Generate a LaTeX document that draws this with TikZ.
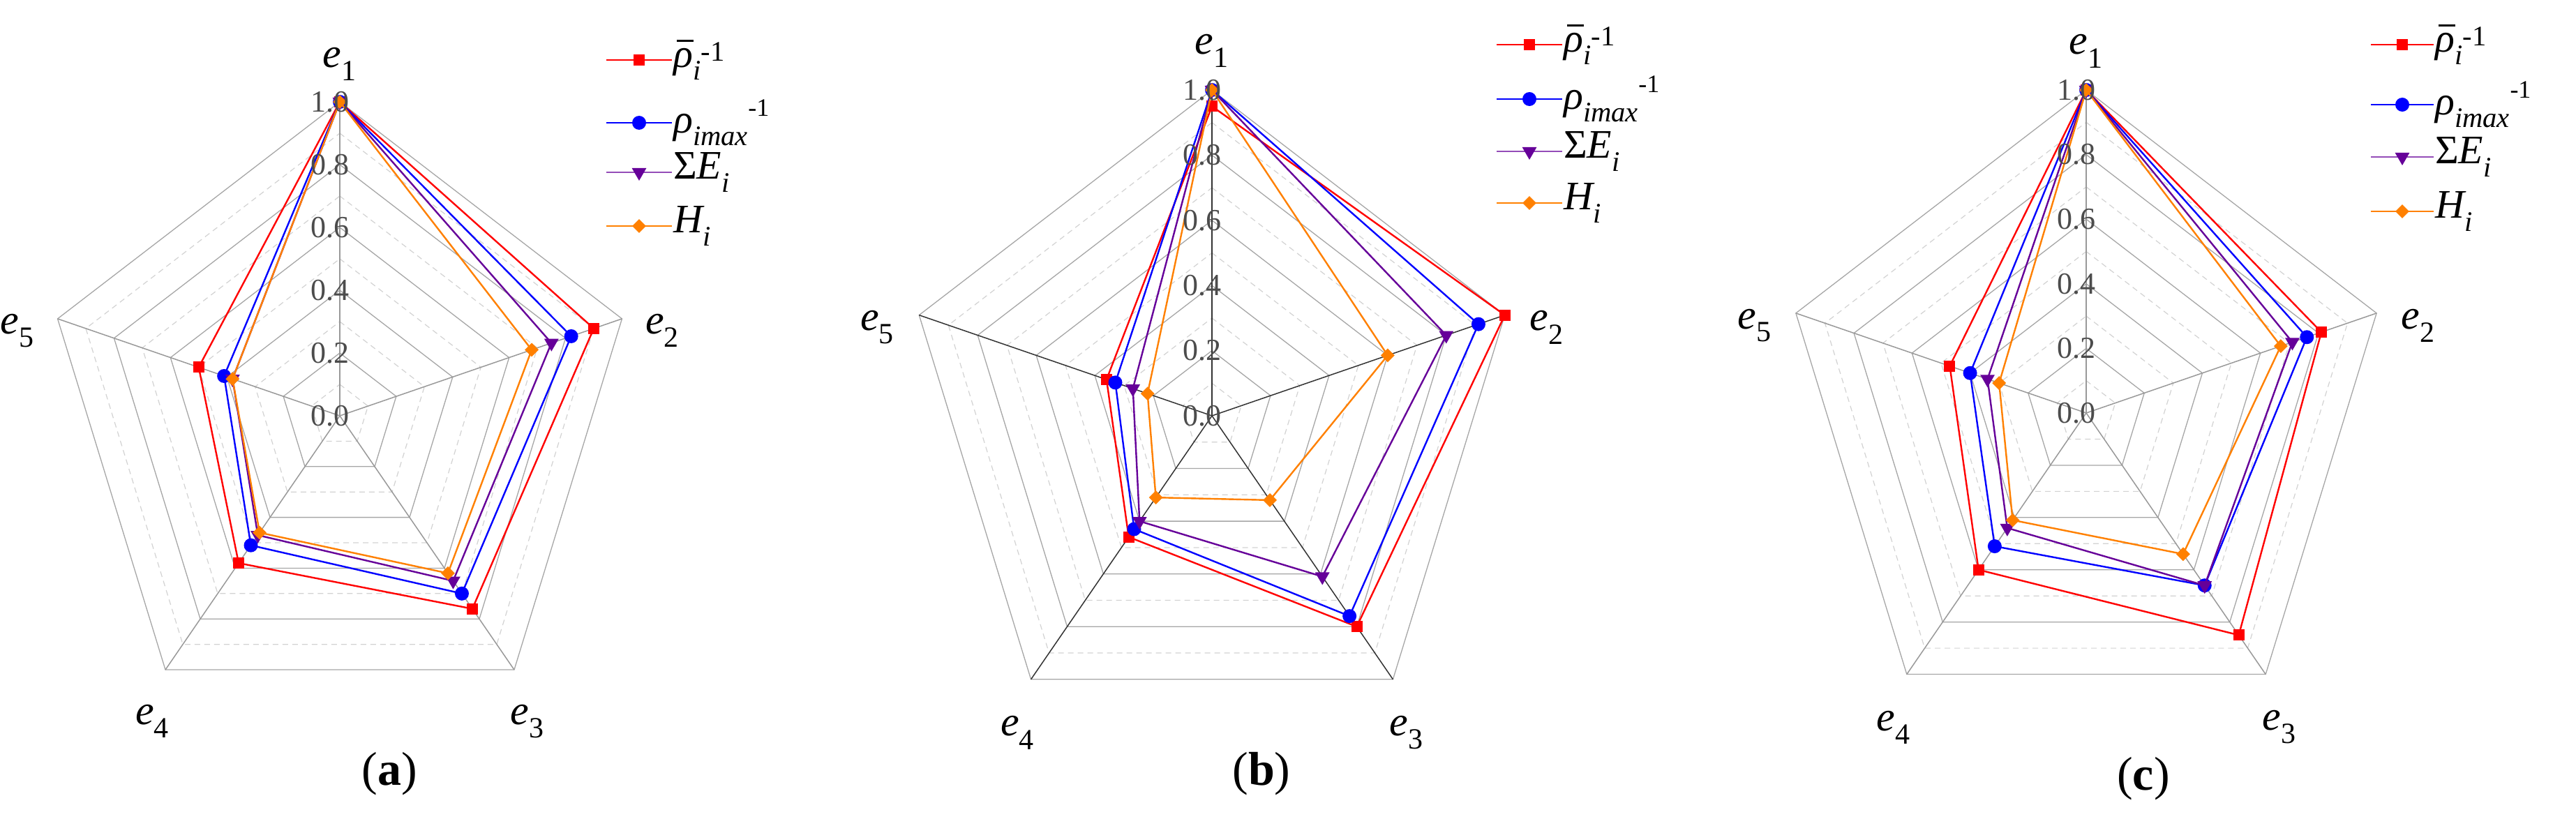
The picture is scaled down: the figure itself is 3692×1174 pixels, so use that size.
\documentclass[tikz,border=0pt]{standalone}
\usepackage{fontspec}
\setmainfont{Liberation Serif}
\usetikzlibrary{shapes.geometric}
\begin{document}
\begin{tikzpicture}[x=1pt,y=1pt,
  ln/.style={line width=2.4pt},
  msq/.style={fill=red,draw=none,minimum size=16pt,inner sep=0pt,rectangle},
  mci/.style={fill=blue,draw=none,minimum size=20pt,inner sep=0pt,circle},
  mtri/.style={fill=violet!80!blue,draw=none,regular polygon,regular polygon sides=3,shape border rotate=180,minimum size=24pt,inner sep=0pt},
  mdia/.style={fill=orange,draw=none,minimum size=20pt,inner sep=0pt,diamond},
  gridsolid/.style={draw=gray!70,line width=1.3pt},
  griddash/.style={draw=gray!35,line width=1.2pt,dash pattern=on 8pt off 6pt},
  ticklab/.style={font=\fontsize{44}{48}\selectfont,text=black!70,anchor=east,inner sep=0pt},
  elab/.style={font=\fontsize{60}{66}\selectfont\itshape},
  leglab/.style={font=\fontsize{58}{64}\selectfont\itshape,anchor=west,inner sep=2pt},
  captxt/.style={font=\fontsize{68}{72}\selectfont}]
\useasboundingbox (0,0) rectangle (3692,-1174);
\newcommand\rgrid[2]{% axis color
  \foreach \t in {0.1,0.3,0.5,0.7,0.9}
    \draw[griddash] (90:{\R*\t}) -- (18:{\R*\t}) -- (-54:{\R*\t}) -- (-126:{\R*\t}) -- (162:{\R*\t}) -- cycle;
  \foreach \t in {0.2,0.4,0.6,0.8,1.0}
    \draw[gridsolid] (90:{\R*\t}) -- (18:{\R*\t}) -- (-54:{\R*\t}) -- (-126:{\R*\t}) -- (162:{\R*\t}) -- cycle;
  \draw[draw=#1,line width=1.5pt] (0,0) -- (90:\R);
  \foreach \a in {18,-54,-126,162} \draw[draw=#2,line width=1.5pt] (0,0) -- (\a:\R);
}
\newcommand\series[7]{%
  \draw[#1,ln] (90:{\R*#3}) -- (18:{\R*#4}) -- (-54:{\R*#5}) -- (-126:{\R*#6}) -- (162:{\R*#7}) -- cycle;
  \foreach \a/\v in {90/#3,18/#4,-54/#5,-126/#6,162/#7} \node[#2] at (\a:{\R*\v}) {};
}
\newcommand\labels{%
  \foreach \t in {0.0,0.2,0.4,0.6,0.8,1.0} \node[ticklab] at (14,{\R*\t}) {\t};
  \node[elab] at (90:{\R*1.12}) {e\textsubscript{\upshape 1}};
  \node[elab] at (14:{\R*1.12}) {e\textsubscript{\upshape 2}};
  \node[elab] at (-57:{\R*1.16}) {e\textsubscript{\upshape 3}};
  \node[elab] at (-123:{\R*1.16}) {e\textsubscript{\upshape 4}};
  \node[elab] at (166:{\R*1.12}) {e\textsubscript{\upshape 5}};
}
\newcommand\legend[6]{% x0 x1 y1 y2 y3 y4
  \draw[red,ln] (#1,-#3) -- (#2,-#3); \node[msq] at ({(#1+#2)/2},-#3) {};
  \node[leglab] at (#2,-#3) {\makebox[0pt][l]{\hspace{0.08em}\raisebox{0.62em}{\rule{0.42em}{3pt}}}ρ\textsubscript{i}\textsuperscript{\upshape -1}};
  \draw[blue,ln] (#1,-#4) -- (#2,-#4); \node[mci] at ({(#1+#2)/2},-#4) {};
  \node[leglab] at (#2,-#4) {ρ\textsubscript{imax}\raisebox{24pt}{\fontsize{36}{40}\selectfont\upshape -1}};
  \draw[violet!80!blue!70,ln] (#1,-#5) -- (#2,-#5); \node[mtri] at ({(#1+#2)/2},-#5) {};
  \node[leglab] at (#2,-#5) {{\upshape Σ}E\textsubscript{i}};
  \draw[orange,ln] (#1,-#6) -- (#2,-#6); \node[mdia] at ({(#1+#2)/2},-#6) {};
  \node[leglab] at (#2,-#6) {H\textsubscript{i}};
}
% ---- (a)
\begin{scope}[shift={(487,-596)}]
\def\R{450}
\begin{scope}[xscale=0.945]
\rgrid{gray!80}{gray!80}
\series{red}{msq}{1}{.90}{.76}{.58}{.50}
\series{blue}{mci}{1}{.82}{.70}{.51}{.41}
\series{violet!80!blue}{mtri}{1}{.75}{.65}{.47}{.38}
\series{orange}{mdia}{1}{.68}{.62}{.46}{.38}
\labels
\end{scope}
\end{scope}
\legend{869}{963}{86}{176}{247}{324}
\node[captxt] (capa) at (558,-1109) {(\textbf{a})};
% ---- (b)
\begin{scope}[shift={(1737,-596)}]
\def\R{467}
\begin{scope}[xscale=0.945]
\rgrid{black!80}{black!80}
\series{red}{msq}{.95}{1.0}{.80}{.46}{.36}
\series{blue}{mci}{1}{.91}{.76}{.43}{.33}
\series{violet!80!blue}{mtri}{1}{.80}{.61}{.40}{.27}
\series{orange}{mdia}{1}{.60}{.32}{.31}{.22}
\labels
\end{scope}
\end{scope}
\legend{2145}{2239}{64}{142}{217}{291}
\node[captxt] (capb) at (1808,-1109) {(\textbf{b})};
% ---- (c)
\begin{scope}[shift={(2990,-592)}]
\def\R{463}
\begin{scope}[xscale=0.945]
\rgrid{gray!80}{gray!80}
\series{red}{msq}{1}{.81}{.85}{.60}{.47}
\series{blue}{mci}{1}{.76}{.66}{.51}{.40}
\series{violet!80!blue}{mtri}{1}{.71}{.66}{.44}{.34}
\series{orange}{mdia}{1}{.67}{.54}{.41}{.30}
\labels
\end{scope}
\end{scope}
\legend{3398}{3488}{64}{150}{225}{303}
\node[captxt] (capc) at (3072,-1116) {(\textbf{c})};
\end{tikzpicture}
\end{document}
